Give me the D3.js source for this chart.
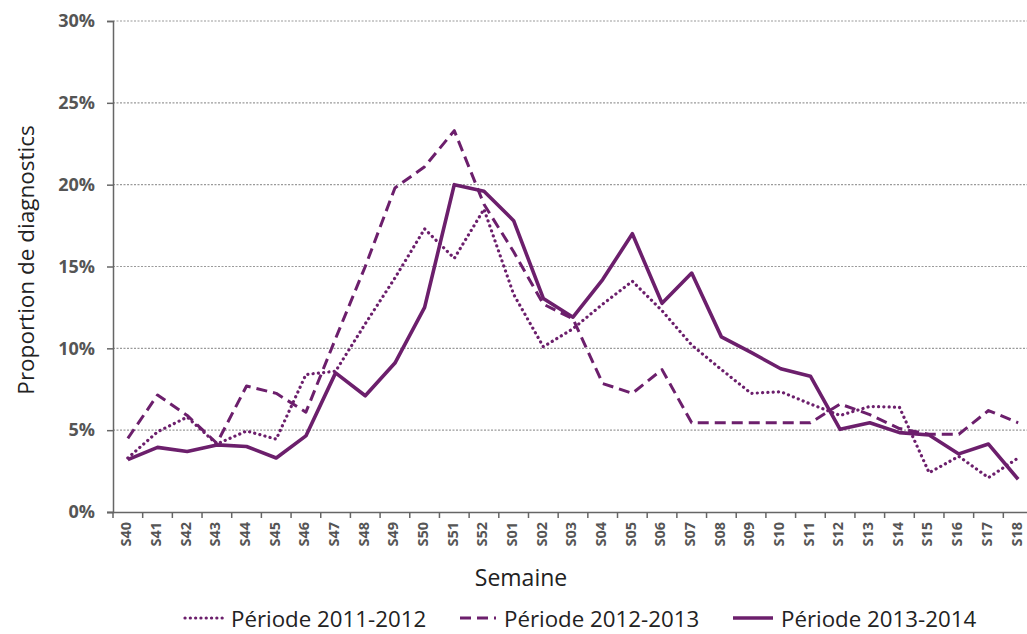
<!DOCTYPE html>
<html>
<head>
<meta charset="utf-8">
<script src="https://cdn.jsdelivr.net/npm/d3@7"></script>
<style>
  html, body { margin: 0; padding: 0; background: #fff; }
  svg { display: block; }
</style>
</head>
<body>
<svg id="chart" width="1027" height="634"></svg>
<script>
const weeks = ["S40","S41","S42","S43","S44","S45","S46","S47","S48","S49","S50","S51","S52",
  "S01","S02","S03","S04","S05","S06","S07","S08","S09","S10","S11","S12","S13","S14","S15","S16","S17","S18"];
const yTicks = [0, 5, 10, 15, 20, 25, 30];
const seriesNames = ["Période 2011-2012", "Période 2012-2013", "Période 2013-2014"];
const p2011 = [3.3, 4.9, 5.8, 4.15, 4.95, 4.45, 8.4, 8.6, 11.5, 14.3, 17.3, 15.5, 18.5,
  13.3, 10.1, 11.2, 12.7, 14.1, 12.3, 10.2, 8.7, 7.25, 7.35, 6.6, 5.9, 6.45, 6.4, 2.4, 3.4, 2.1, 3.3];
const p2012 = [4.5, 7.15, 5.9, 4.2, 7.7, 7.25, 6.1, 10.6, 15.0, 19.8, 21.1, 23.3, 18.8,
  15.9, 12.7, 11.8, 7.85, 7.25, 8.7, 5.45, 5.45, 5.45, 5.45, 5.45, 6.6, 5.95, 5.1, 4.75, 4.75, 6.2, 5.45];
const p2013 = [3.2, 3.95, 3.7, 4.1, 4.0, 3.3, 4.65, 8.5, 7.1, 9.1, 12.5, 20.0, 19.6,
  17.8, 13.05, 11.9, 14.2, 17.0, 12.75, 14.6, 10.7, 9.75, 8.75, 8.3, 5.05, 5.45, 4.85, 4.7, 3.55, 4.15, 2.0];

(function () {
const purple = "#6c1f6c";
const styles = [
  { dash: "0.1,5.2", width: 3.2, cap: "round" },
  { dash: "11,6", width: 3, cap: "butt" },
  { dash: null, width: 3.6, cap: "butt" }
];
const data = [p2011, p2012, p2013];

const svg = d3.select("#chart");
const mLeft = 113, mTop = 21, mBottom = 512, rightBand = 1033;

const x = d3.scaleBand().domain(weeks).range([mLeft, rightBand]).padding(0);
const y = d3.scaleLinear().domain([0, 30]).range([mBottom, mTop]);

// gridlines
svg.append("g").selectAll("line").data(yTicks.filter(d => d > 0)).join("line")
  .attr("x1", mLeft).attr("x2", 1027)
  .attr("y1", d => y(d)).attr("y2", d => y(d))
  .attr("stroke", "#9a9a9a").attr("stroke-width", 1.2).attr("stroke-dasharray", "2,1.5");

// y axis
const yAxis = svg.append("g").attr("transform", `translate(${mLeft},0)`)
  .call(d3.axisLeft(y).tickValues(yTicks).tickFormat(d => d + "%").tickSize(6).tickPadding(12));
yAxis.select(".domain").attr("stroke", "#666").attr("stroke-width", 1.5);
yAxis.selectAll(".tick line").attr("stroke", "#666").attr("stroke-width", 1.5);
yAxis.selectAll("text").attr("font-family", "'Liberation Sans Narrow', 'Open Sans', sans-serif")
  .attr("font-weight", "bold").attr("font-size", 18).attr("fill", "#555");

// x axis
const xAxis = svg.append("g").attr("transform", `translate(0,${mBottom})`)
  .call(d3.axisBottom(x).tickSize(0).tickSizeOuter(0));
xAxis.select(".domain").attr("d", `M${mLeft - 6},0.5H1027`).attr("stroke", "#666").attr("stroke-width", 1.5);
xAxis.selectAll("text")
  .attr("font-family", "'Liberation Sans Narrow', 'Open Sans', sans-serif")
  .attr("font-weight", "bold").attr("font-size", 14.5).attr("fill", "#555")
  .attr("transform", "rotate(-90)")
  .attr("text-anchor", "end").attr("dy", "0.3em").attr("x", -10).attr("y", -1);
// boundary ticks
svg.append("g").selectAll("line").data(weeks).join("line")
  .attr("x1", d => x(d)).attr("x2", d => x(d))
  .attr("y1", mBottom).attr("y2", mBottom + 6)
  .attr("stroke", "#666").attr("stroke-width", 1.5);

// lines
const line = d3.line().x((d, i) => x(weeks[i]) + x.bandwidth() / 2).y(d => y(d));
data.forEach((vals, k) => {
  const p = svg.append("path").datum(vals).attr("d", line)
    .attr("fill", "none").attr("stroke", purple)
    .attr("stroke-width", styles[k].width)
    .attr("stroke-linecap", styles[k].cap)
    .attr("stroke-linejoin", "round");
  if (styles[k].dash) p.attr("stroke-dasharray", styles[k].dash);
});

// axis titles
svg.append("text").attr("transform", "translate(34,260) rotate(-90)")
  .attr("text-anchor", "middle").attr("font-family", "'Open Sans', sans-serif")
  .attr("font-size", 22.5).attr("fill", "#222").text("Proportion de diagnostics");
svg.append("text").attr("x", 521).attr("y", 586)
  .attr("text-anchor", "middle").attr("font-family", "'Open Sans', sans-serif")
  .attr("font-size", 23).attr("fill", "#222").text("Semaine");

// legend
const legendX = [{ s: 185, e: 223, t: 231 }, { s: 460, e: 496, t: 504 }, { s: 733, e: 773, t: 781 }];
const lg = svg.append("g");
seriesNames.forEach((name, k) => {
  const L = legendX[k];
  const ln = lg.append("line").attr("x1", L.s).attr("x2", L.e).attr("y1", 618).attr("y2", 618)
    .attr("stroke", purple).attr("stroke-width", styles[k].width)
    .attr("stroke-linecap", styles[k].cap);
  if (styles[k].dash) ln.attr("stroke-dasharray", styles[k].dash);
  lg.append("text").attr("x", L.t).attr("y", 627)
    .attr("font-family", "'Open Sans', sans-serif").attr("font-size", 22.3)
    .attr("fill", "#222").text(name);
});
})();
</script>
</body>
</html>
